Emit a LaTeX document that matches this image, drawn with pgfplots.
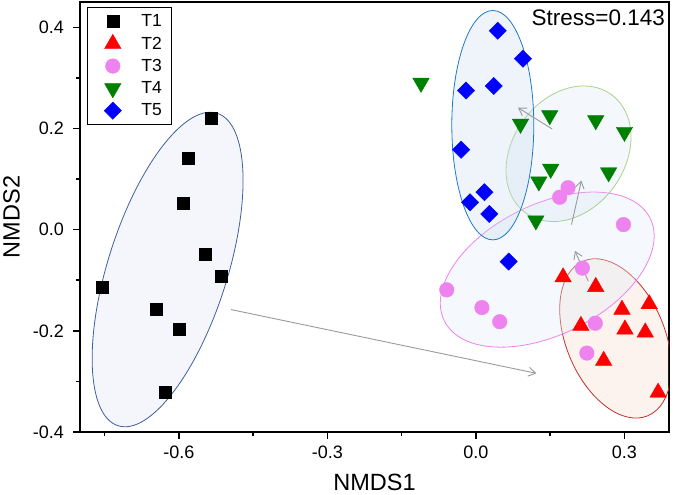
\documentclass[border=0pt]{standalone}
\usepackage{fontspec}
\setmainfont{Liberation Sans}
\usepackage{pgfplots}
\pgfplotsset{compat=1.18}
\usetikzlibrary{arrows.meta,shapes.geometric}

\definecolor{ctwo}{RGB}{255,0,0}
\definecolor{cthree}{RGB}{238,130,238}
\definecolor{cfour}{RGB}{0,128,0}
\definecolor{cfive}{RGB}{0,0,255}
\definecolor{eonel}{RGB}{63,95,159}
\definecolor{eonef}{RGB}{244,246,251}
\definecolor{etwol}{RGB}{192,48,43}
\definecolor{etwof}{RGB}{242,175,142}
\definecolor{ethreel}{RGB}{238,130,238}
\definecolor{ethreef}{RGB}{226,235,246}
\definecolor{efourl}{RGB}{169,209,142}
\definecolor{efourf}{RGB}{200,220,240}
\definecolor{efivel}{RGB}{30,122,200}
\definecolor{efivef}{RGB}{198,218,238}
\definecolor{arrowgray}{RGB}{154,154,154}

\tikzset{
  ell/.style={ellipse, inner sep=0pt, line width=0.8pt},
  garrow/.style={draw=arrowgray, line width=0.9pt, -{Straight Barb[length=7pt,width=9pt]}},
}

\begin{document}
\begin{tikzpicture}
\begin{axis}[
  scale only axis, width=589pt, height=430pt,
  xmin=-0.8, xmax=0.39, ymin=-0.4, ymax=0.45,
  axis line style={line width=1.5pt},
  xtick={-0.6,-0.3,0,0.3}, minor xtick={-0.75,-0.45,-0.15,0.15},
  ytick={-0.4,-0.2,0,0.2,0.4}, minor ytick={-0.3,-0.1,0.1,0.3},
  tick align=outside, tick pos=left,
  major tick length=7pt, minor tick length=4pt,
  major tick style={black, line width=1.5pt},
  minor tick style={black, line width=1.5pt},
  /pgf/number format/fixed, /pgf/number format/fixed zerofill,
  /pgf/number format/precision=1, /pgf/number format/assume math mode=true,
  tick label style={font=\fontsize{18}{20}\selectfont, inner sep=0pt},
  xticklabel style={anchor=north, yshift=-6.5pt},
  yticklabel style={anchor=east, xshift=-9pt},
  xlabel={NMDS1}, ylabel={NMDS2},
  every axis x label/.style={at={(axis description cs:0.5,-0.1372)}, anchor=base,
    font=\fontsize{23.5}{26}\selectfont, inner sep=0pt},
  every axis y label/.style={at={(axis description cs:-0.1027,0.5)}, rotate=90, anchor=base,
    font=\fontsize{23.5}{26}\selectfont, inner sep=0pt},
  legend style={at={(rel axis cs:0,1)}, anchor=north west, xshift=6.7pt, yshift=-5.3pt,
    draw=black, fill=white, line width=1pt, inner xsep=10pt, inner ysep=2.5pt,
    font=\fontsize{17.5}{19}\selectfont, nodes={inner sep=0pt}},
  legend cell align=left,
  legend image code/.code={
    \draw[#1] plot coordinates {(0pt,0pt)};
    \path[draw=none, fill=none] (-15.6pt,-11.15pt) rectangle (28.7pt,11.15pt);
  },
]

% T1 ellipse sits under its own points
\node[ell, draw=eonel, fill=eonef, minimum width=327.8pt, minimum height=119.4pt, rotate=72.4]
  at (axis cs:-0.623,-0.0788) {};

\addplot[only marks, mark=square*, mark size=6pt, black,
  mark options={line width=0.4pt}] coordinates {
  (-0.534,0.220) (-0.582,0.141) (-0.592,0.053) (-0.547,-0.048) (-0.515,-0.093)
  (-0.755,-0.113) (-0.647,-0.157) (-0.600,-0.197) (-0.627,-0.321)
};
\addlegendentry{T1}

\addplot[only marks, mark=triangle*, mark size=9.5pt, color=ctwo, fill=ctwo,
  mark options={line width=0.4pt}] coordinates {
  (0.176,-0.094) (0.242,-0.113) (0.295,-0.158) (0.350,-0.147) (0.212,-0.190)
  (0.301,-0.197) (0.342,-0.203) (0.258,-0.259) (0.368,-0.322)
};
\addlegendentry{T2}

\addplot[only marks, mark=*, mark size=7.3pt, color=cthree, fill=cthree,
  mark options={line width=0.4pt}] coordinates {
  (0.186,0.083) (0.169,0.064) (0.298,0.010) (-0.059,-0.119) (0.012,-0.154)
  (0.048,-0.182) (0.215,-0.076) (0.241,-0.185) (0.224,-0.244)
};
\addlegendentry{T3}

\addplot[only marks, mark=triangle*, mark size=9.5pt, color=cfour, fill=cfour,
  mark options={rotate=180, line width=0.4pt}] coordinates {
  (0.149,0.226) (0.242,0.216) (0.300,0.193) (0.090,0.209) (0.151,0.120)
  (0.127,0.095) (0.268,0.113) (0.121,0.018) (-0.111,0.290)
};
\addlegendentry{T4}

\addplot[only marks, mark=square*, mark size=6.1pt, color=cfive, fill=cfive,
  mark options={rotate=45, line width=0.4pt}] coordinates {
  (0.044,0.393) (0.095,0.338) (-0.020,0.275) (0.036,0.284) (-0.030,0.158)
  (0.017,0.074) (-0.012,0.054) (0.027,0.031) (0.066,-0.063)
};
\addlegendentry{T5}

% confidence ellipses over the points
\node[ell, draw=etwol, fill=etwof, fill opacity=0.15, minimum width=167.6pt, minimum height=98.8pt, rotate=112.6]
  at (axis cs:0.282,-0.215) {};
\node[ell, draw=ethreel, fill=ethreef, fill opacity=0.35, minimum width=230pt, minimum height=130pt, rotate=26.5]
  at (axis cs:0.144,-0.079) {};
\node[ell, draw=efourl, fill=efourf, fill opacity=0.2, minimum width=146.2pt, minimum height=112.4pt, rotate=54.2]
  at (axis cs:0.187,0.150) {};
\node[ell, draw=efivel, fill=efivef, fill opacity=0.3, minimum width=229.4pt, minimum height=82pt, rotate=90]
  at (axis cs:0.034,0.2065) {};

% shifts between group centroids
\draw[garrow] (axis cs:-0.495,-0.158) -- (axis cs:0.122,-0.284);
\draw[garrow] (axis cs:0.227,-0.102) -- (axis cs:0.200,-0.042);
\draw[garrow] (axis cs:0.193,0.010) -- (axis cs:0.213,0.097);
\draw[garrow] (axis cs:0.154,0.199) -- (axis cs:0.085,0.241);

\node[anchor=north east, inner sep=0pt, font=\fontsize{22.5}{24}\selectfont]
  at (rel axis cs:1,1) [xshift=-4pt, yshift=-8pt] {Stress=0.143};
\end{axis}
\pgfresetboundingbox
\path[use as bounding box] (-80pt,-63pt) rectangle (595pt,432pt);
\end{tikzpicture}
\end{document}
